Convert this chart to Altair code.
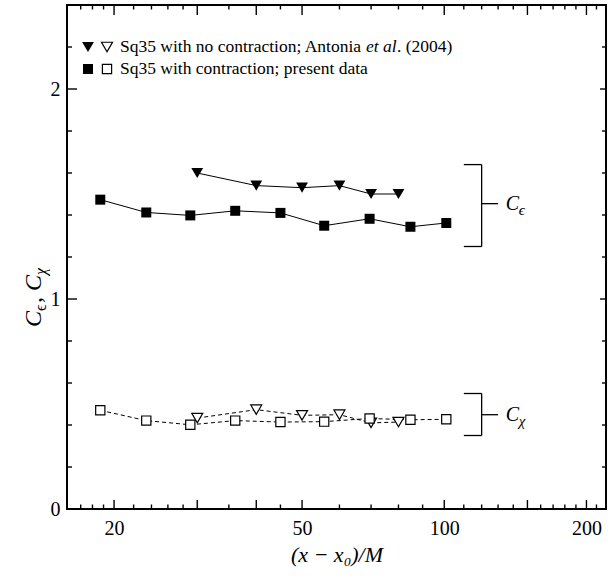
import altair as alt
import pandas as pd

# ---------------- data ----------------
x_antonia = [30, 40, 50, 60, 70, 80]
ceps_antonia = [1.60, 1.54, 1.53, 1.54, 1.50, 1.50]
cchi_antonia = [0.433, 0.473, 0.446, 0.449, 0.410, 0.414]

x_present = [18.7, 23.4, 29.0, 36.1, 45.0, 55.7, 69.5, 84.8, 101.0]
ceps_present = [1.473, 1.412, 1.398, 1.420, 1.410, 1.349, 1.382, 1.344, 1.362]
cchi_present = [0.470, 0.421, 0.401, 0.421, 0.414, 0.416, 0.431, 0.425, 0.427]

x_labels = [20, 50, 100, 200]
x_major = [20, 30, 40, 50, 100, 150, 200]
x_minor = [17, 18, 19, 22, 24, 26, 28, 35, 45, 60, 70, 80, 90,
           110, 120, 130, 140, 160, 170, 180, 190, 210]
y_labels = [0, 1, 2]
y_major = [1, 2]
y_minor = [0.2, 0.4, 0.6, 0.8, 1.2, 1.4, 1.6, 1.8, 2.2]

x_domain = [15.9, 220]
y_domain = [0, 2.4]

# brackets: C_eps and C_chi
bracket_lo = [1.25, 0.35]
bracket_hi = [1.64, 0.55]
bracket_mid = [1.454, 0.449]
bracket_x = [110, 120, 130]      # arm start, spine, tick end
bracket_label_x = 135
bracket_sub = ["\u03f5", "\u03c7"]

legend_row1 = ["Sq35 with no contraction; Antonia", "et al", ". (2004)"]
legend_row2 = "Sq35 with contraction; present data"

FONT = "Liberation Serif"
W, H = 539, 504

xs = alt.Scale(type="log", domain=x_domain, nice=False, zero=False)
ys = alt.Scale(domain=y_domain, nice=False, zero=False)

df_ant = pd.DataFrame({"x": x_antonia, "ce": ceps_antonia, "cc": cchi_antonia})
df_pre = pd.DataFrame({"x": x_present, "ce": ceps_present, "cc": cchi_present})

# one shared axis definition per channel (identical in every layer)
AX_X = dict(values=x_labels, orient="bottom", ticks=False, tickSize=0, labelFont=FONT,
            labelFontSize=20, labelColor="black", labelPadding=9, labelOverlap=False,
            labelFlush=False, domain=False, grid=False,
            format="d", title="(x \u2212 x\u2080)/M", titleFont=FONT, titleFontSize=22,
            titleFontStyle="italic", titleFontWeight="normal", titleColor="black", titlePadding=6)
AX_Y = dict(values=y_labels, orient="left", ticks=False, tickSize=0, labelFont=FONT,
            labelFontSize=20, labelColor="black", labelPadding=7, labelOverlap=False,
            labelFlush=False, domain=False, grid=False,
            format="d", title=None)


def X(field):
    return alt.X(field, scale=xs, axis=alt.Axis(**AX_X))


def Y(field):
    return alt.Y(field, scale=ys, axis=alt.Axis(**AX_Y))


def enc(chart, yfield):
    return chart.encode(x=X("x:Q"), y=Y(f"{yfield}:Q"))


line_ce_pre = enc(alt.Chart(df_pre).mark_line(color="black", strokeWidth=1), "ce")
line_ce_ant = enc(alt.Chart(df_ant).mark_line(color="black", strokeWidth=1), "ce")
line_cc_pre = enc(alt.Chart(df_pre).mark_line(color="black", strokeWidth=1, strokeDash=[4, 3]), "cc")
line_cc_ant = enc(alt.Chart(df_ant).mark_line(color="black", strokeWidth=1, strokeDash=[4, 3]), "cc")

pt_ce_pre = enc(alt.Chart(df_pre).mark_point(shape="square", filled=True, color="black", size=100, opacity=1), "ce")
pt_ce_ant = enc(alt.Chart(df_ant).mark_point(shape="triangle-down", filled=True, color="black", size=140, opacity=1), "ce")
pt_cc_ant = enc(alt.Chart(df_ant).mark_point(shape="triangle-down", filled=True, fill="white", stroke="black",
                                             strokeWidth=1.2, size=120, opacity=1), "cc")
pt_cc_pre = enc(alt.Chart(df_pre).mark_point(shape="square", filled=True, fill="white", stroke="black",
                                             strokeWidth=1.2, size=85, opacity=1), "cc")


# inward tick marks, placed through the chart's own scales
def xticks(values, y0, y1, sw=1.4):
    return alt.Chart(pd.DataFrame({"v": values})).mark_rule(color="black", strokeWidth=sw).encode(
        x=X("v:Q"), y=alt.value(y0), y2=alt.value(y1))


def yticks(values, x0, x1, sw=1.4):
    return alt.Chart(pd.DataFrame({"v": values})).mark_rule(color="black", strokeWidth=sw).encode(
        y=Y("v:Q"), x=alt.value(x0), x2=alt.value(x1))


ticks = [
    xticks(x_major, H, H - 9), xticks(x_minor, H, H - 4.5),
    xticks(x_major, 0, 10), xticks(x_minor, 0, 4.5),
    yticks(y_major, 0, 10), yticks(y_minor, 0, 5),
    yticks(y_major, W, W - 6), yticks(y_minor, W, W - 4),
]

# bracket segments built from the bracket arrays
seg_rows = []
for lo, hi, mid in zip(bracket_lo, bracket_hi, bracket_mid):
    seg_rows.append({"x": bracket_x[1], "x2": bracket_x[1], "y": lo, "y2": hi})
    seg_rows.append({"x": bracket_x[0], "x2": bracket_x[1], "y": hi, "y2": hi})
    seg_rows.append({"x": bracket_x[0], "x2": bracket_x[1], "y": lo, "y2": lo})
    seg_rows.append({"x": bracket_x[1], "x2": bracket_x[2], "y": mid, "y2": mid})
df_seg = pd.DataFrame(seg_rows)
brackets = alt.Chart(df_seg).mark_rule(color="black", strokeWidth=1.3).encode(
    x=X("x:Q"), x2="x2:Q", y=Y("y:Q"), y2="y2:Q")

df_lab = pd.DataFrame({"x": [bracket_label_x] * 2, "y": bracket_mid, "c": ["C", "C"], "s": bracket_sub})
lab_c = alt.Chart(df_lab).mark_text(font=FONT, fontSize=20, fontStyle="italic", align="left",
                                    baseline="middle", color="black").encode(
    x=X("x:Q"), y=Y("y:Q"), text="c:N")
lab_s = alt.Chart(df_lab).mark_text(font=FONT, fontSize=15, fontStyle="italic", align="left",
                                    baseline="middle", color="black", dx=13, dy=6).encode(
    x=X("x:Q"), y=Y("y:Q"), text="s:N")


def ptext(s, px, py, size, style="normal", angle=0, baseline="middle"):
    return alt.Chart(pd.DataFrame({"t": [s]})).mark_text(
        font=FONT, fontSize=size, fontStyle=style, align="left", baseline=baseline,
        angle=angle, color="black").encode(x=alt.value(px), y=alt.value(py), text="t:N")


def pmark(shape, px, py, filled, size):
    if filled:
        m = alt.Chart(pd.DataFrame({"t": [0]})).mark_point(shape=shape, filled=True, color="black",
                                                           size=size, opacity=1)
    else:
        m = alt.Chart(pd.DataFrame({"t": [0]})).mark_point(shape=shape, filled=True, fill="white",
                                                           stroke="black", strokeWidth=1.2,
                                                           size=size, opacity=1)
    return m.encode(x=alt.value(px), y=alt.value(py))


LFS = 17.5
legend = [
    pmark("triangle-down", 21, 42, True, 140),
    pmark("triangle-down", 40, 42, False, 120),
    pmark("square", 21, 64, True, 100),
    pmark("square", 40, 64, False, 85),
    ptext(legend_row1[0], 53, 42, LFS),
    ptext(legend_row1[1], 299, 42, LFS, "italic"),
    ptext(legend_row1[2], 330, 42, LFS),
    ptext(legend_row2, 53, 64, LFS),
]

ytitle = [
    ptext("C", -26, 322, 24, "italic", 270, "alphabetic"),
    ptext("\u03f5", -21, 306, 16, "normal", 270, "alphabetic"),
    ptext(",", -26, 298, 24, "normal", 270, "alphabetic"),
    ptext("C", -26, 286, 24, "italic", 270, "alphabetic"),
    ptext("\u03c7", -21, 270, 16, "italic", 270, "alphabetic"),
]

chart = alt.layer(
    line_ce_pre, line_ce_ant, line_cc_pre, line_cc_ant,
    brackets,
    pt_ce_pre, pt_ce_ant, pt_cc_ant, pt_cc_pre,
    lab_c, lab_s,
    *legend, *ytitle,
    *ticks,
).properties(
    width=W, height=H, autosize="none",
    padding={"left": 67, "top": 5, "right": 2, "bottom": 67},
).configure(background="white", view=alt.ViewConfig(stroke="black", strokeWidth=2))

chart.save("out.html", embed_options={"renderer": "svg", "actions": False})
